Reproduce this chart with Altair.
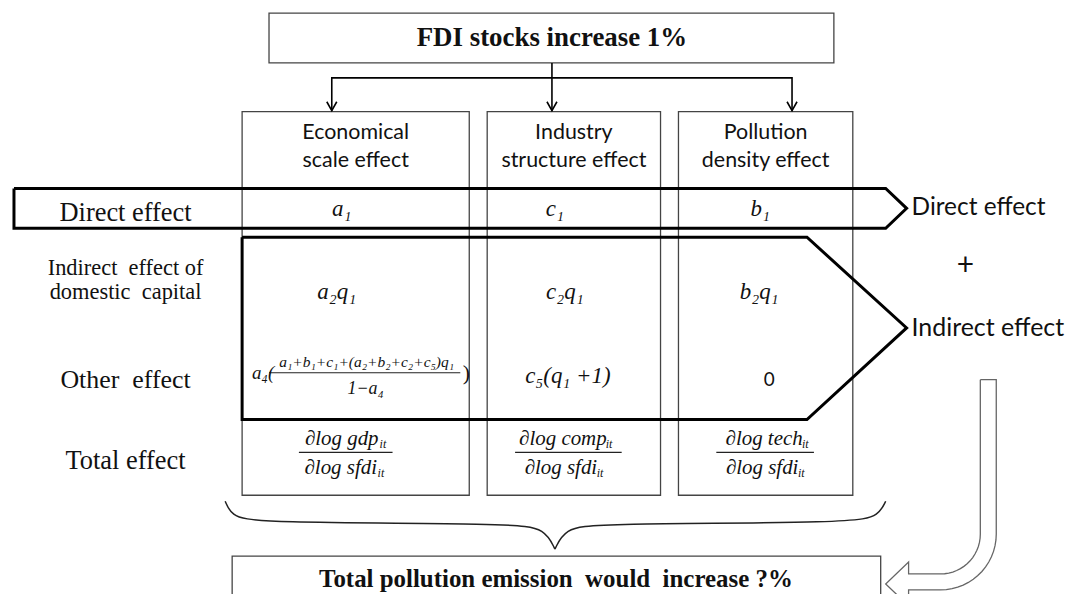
import altair as alt
import numpy as np
import pandas as pd

# ---------------- text content ----------------
top_title = "FDI stocks increase 1%"
bottom_title = "Total pollution emission\u00a0 would\u00a0 increase ?%"
header_line1 = ["Economical", "Industry", "Pollution"]
header_line2 = ["scale effect", "structure effect", "density effect"]
row_labels = ["Direct effect", "Indirect\u00a0 effect of", "domestic\u00a0 capital", "Other\u00a0 effect", "Total effect"]
direct_terms = ["a₁", "c₁", "b₁"]
indirect_terms = ["a₂q₁", "c₂q₁", "b₂q₁"]
other_col1 = ["a₄(", "a₁+b₁+c₁+(a₂+b₂+c₂+c₅)q₁", "1−a₄", ")"]
other_col2 = "c₅(q₁ +1)"
other_col3 = "0"
total_num = ["∂log gdp", "∂log comp", "∂log tech"]
total_den = ["∂log sfdi", "∂log sfdi", "∂log sfdi"]
total_sub = ["it", "it", "it"]
side_labels = ["Direct effect", "+", "Indirect effect"]

# ---------------- layout (diagram geometry, in page pixels) ----------------
top_box = [268, 835, 12, 62]
col_left = [241, 487, 679]
col_right = [469, 661, 854]
col_top, col_bottom = 111, 496
header_y = [132, 160]
arrow_x = [331, 552, 793]
branch_y, arrow_tip_y = 77, 110
direct_arrow_x = [12, 887, 908, 887, 12, 12]
direct_arrow_y = [188, 188, 208, 228, 228, 188]
indirect_arrow_x = [241, 808, 908, 808, 241, 241]
indirect_arrow_y = [237, 237, 328, 420, 420, 237]
row_label_x = 124
row_label_y = [213, 268, 292, 380, 462]
direct_x = [341, 555, 761]
direct_y = 209
indirect_x = [336, 565, 760]
indirect_y = 292
total_num_x = [341, 563, 765]
total_sub_num_x = [379, 606, 803]
total_den_x = [340, 561, 763]
total_sub_den_x = [377, 597, 799]
total_num_y, total_bar_y, total_den_y = 440, 453, 469
total_bar_x1 = [298, 515, 717]
total_bar_x2 = [392, 622, 815]
other_y = 376
brace_left_x = [224, 230, 252, 515, 545, 555]
brace_left_y = [502, 516, 524, 524, 530, 550]
brace_right_x = [555, 565, 595, 858, 880, 887]
brace_right_y = [550, 530, 524, 524, 516, 502]
bottom_box = [231, 882, 557, 640]
curve_cx, curve_cy, curve_r1, curve_r2 = 942, 535, 40, 56
curve_top = 380
head_base_x, head_tip_x, head_top_y, head_bot_y = 910, 887, 563, 607

X = alt.Scale(domain=[8, 1065], nice=False, zero=False)
Y = alt.Scale(domain=[8, 595], nice=False, zero=False, reverse=True)


def enc_xy(xf="x", yf="y"):
    return dict(x=alt.X(f"{xf}:Q", scale=X, axis=None),
                y=alt.Y(f"{yf}:Q", scale=Y, axis=None))


# ---------- boxes ----------
boxes = pd.DataFrame({
    "x": [top_box[0]] + col_left,
    "x2": [top_box[1]] + col_right,
    "y": [top_box[2]] + [col_top] * 3,
    "y2": [top_box[3]] + [col_bottom] * 3,
})
box_layer = alt.Chart(boxes).mark_rect(fillOpacity=0, stroke="#444444", strokeWidth=1.3).encode(
    **enc_xy(), x2="x2:Q", y2="y2:Q")


def add_seg(lst, name, xs, ys):
    for i, (a, b) in enumerate(zip(xs, ys)):
        lst.append({"shape": name, "i": i, "x": a, "y": b})


# ---------- thick pentagon arrows ----------
thick_rows = []
add_seg(thick_rows, "direct", direct_arrow_x, direct_arrow_y)
add_seg(thick_rows, "indirect", indirect_arrow_x, indirect_arrow_y)
thick = pd.DataFrame(thick_rows)
thick_layer = alt.Chart(thick).mark_line(color="black", strokeWidth=3, strokeJoin="miter").encode(
    **enc_xy(), order="i:Q", detail="shape:N")

# ---------- connector lines ----------
conn_rows = []
add_seg(conn_rows, "stem", [arrow_x[1], arrow_x[1]], [top_box[3], arrow_tip_y])
add_seg(conn_rows, "branch", [arrow_x[0], arrow_x[0], arrow_x[2], arrow_x[2]],
        [arrow_tip_y, branch_y, branch_y, arrow_tip_y])
for k, ax in enumerate(arrow_x):
    add_seg(conn_rows, f"head{k}", [ax - 5, ax, ax + 5], [arrow_tip_y - 9, arrow_tip_y, arrow_tip_y - 9])
conn = pd.DataFrame(conn_rows)
conn_layer = alt.Chart(conn).mark_line(color="black", strokeWidth=1.6).encode(
    **enc_xy(), order="i:Q", detail="shape:N")

# ---------- brace ----------
brace_rows = []
add_seg(brace_rows, "bl", brace_left_x, brace_left_y)
add_seg(brace_rows, "br", brace_right_x, brace_right_y)
brace = pd.DataFrame(brace_rows)
brace_layer = alt.Chart(brace).mark_line(color="#222222", strokeWidth=1.5, interpolate="basis").encode(
    **enc_xy(), order="i:Q", detail="shape:N")

# ---------- bottom box (cut by the page edge) ----------
bb_rows = []
add_seg(bb_rows, "bb", [bottom_box[0], bottom_box[0], bottom_box[1], bottom_box[1]],
        [bottom_box[3], bottom_box[2], bottom_box[2], bottom_box[3]])
bb = pd.DataFrame(bb_rows)
bb_layer = alt.Chart(bb).mark_line(color="#444444", strokeWidth=1.3, clip=True).encode(
    **enc_xy(), order="i:Q", detail="shape:N")

# ---------- hollow curved arrow ----------
th = np.linspace(0, np.pi / 2, 16)
inner_x = list(curve_cx + curve_r1 * np.cos(th))
inner_y = list(curve_cy + curve_r1 * np.sin(th))
outer_x = list(curve_cx + curve_r2 * np.cos(th))[::-1]
outer_y = list(curve_cy + curve_r2 * np.sin(th))[::-1]
ca_x = ([curve_cx + curve_r1] + inner_x + [head_base_x, head_base_x, head_tip_x, head_base_x, head_base_x]
        + outer_x + [curve_cx + curve_r2, curve_cx + curve_r1])
ca_y = ([curve_top] + inner_y + [curve_cy + curve_r1, head_top_y, (head_top_y + head_bot_y) / 2,
                                  head_bot_y, curve_cy + curve_r2]
        + outer_y + [curve_top, curve_top])
ca_rows = []
add_seg(ca_rows, "curve", ca_x, ca_y)
ca = pd.DataFrame(ca_rows)
ca_layer = alt.Chart(ca).mark_line(color="#666666", strokeWidth=1.3, clip=True).encode(
    **enc_xy(), order="i:Q", detail="shape:N")

# ---------- fraction bars ----------
bars = pd.DataFrame({
    "x": total_bar_x1 + [268],
    "x2": total_bar_x2 + [460],
    "y": [total_bar_y] * 3 + [373],
})
bar_layer = alt.Chart(bars).mark_rule(color="#222222", strokeWidth=1.2).encode(
    **enc_xy(), x2="x2:Q")


# ---------- texts ----------
def text_layer(df, font, style="normal", weight="normal", align="center", color="#111111"):
    return alt.Chart(df).mark_text(font=font, fontStyle=style, fontWeight=weight, align=align,
                                   baseline="middle", color=color).encode(
        **enc_xy(), text="t:N", size=alt.Size("fs:Q", scale=None, legend=None))


titles = pd.DataFrame({
    "t": [top_title, bottom_title],
    "x": [552, 556], "y": [37, 580], "fs": [27, 25],
})
t_titles = text_layer(titles, "Liberation Serif", weight="bold")

headers = pd.DataFrame({
    "t": header_line1 + header_line2,
    "x": [(a + b) / 2 for a, b in zip(col_left, col_right)] * 2,
    "y": [header_y[0]] * 3 + [header_y[1]] * 3,
    "fs": [21.5] * 6,
})
t_headers = text_layer(headers, "Lato")

side = pd.DataFrame({
    "t": [side_labels[0], side_labels[2]],
    "x": [913, 913], "y": [208, 328], "fs": [24.5, 25],
})
t_side = text_layer(side, "Lato", align="left")
plus = pd.DataFrame({"t": [side_labels[1]], "x": [967], "y": [266], "fs": [30]})
t_plus = text_layer(plus, "Lato")
zero = pd.DataFrame({"t": [other_col3], "x": [770], "y": [380], "fs": [19]})
t_zero = text_layer(zero, "Lato")

rl = pd.DataFrame({
    "t": row_labels,
    "x": [row_label_x] * 5,
    "y": row_label_y,
    "fs": [26.5, 22.5, 22.5, 26, 26.5],
})
t_rows = text_layer(rl, "Liberation Serif")

formulas = pd.DataFrame({
    "t": direct_terms + indirect_terms + [other_col2, other_col1[0], other_col1[1], other_col1[2]]
         + total_num + total_den,
    "x": direct_x + indirect_x + [568, 262, 366, 365] + total_num_x + total_den_x,
    "y": [direct_y] * 3 + [indirect_y] * 3 + [other_y, 373, 362, 389]
         + [total_num_y] * 3 + [total_den_y] * 3,
    "fs": [23] * 3 + [23] * 3 + [23, 19, 15.5, 18] + [21] * 3 + [21] * 3,
})
t_formulas = text_layer(formulas, "Liberation Serif", style="italic")

paren = pd.DataFrame({"t": [other_col1[3]], "x": [466], "y": [373], "fs": [22]})
t_paren = text_layer(paren, "Liberation Serif")

subs = pd.DataFrame({
    "t": total_sub + total_sub,
    "x": total_sub_num_x + total_sub_den_x,
    "y": [total_num_y + 5] * 3 + [total_den_y + 5] * 3,
    "fs": [12] * 6,
})
t_subs = text_layer(subs, "Liberation Serif", style="italic", align="left")

chart = alt.layer(
    box_layer, bb_layer, conn_layer, brace_layer, ca_layer, bar_layer, thick_layer,
    t_titles, t_headers, t_side, t_plus, t_zero, t_rows, t_formulas, t_paren, t_subs,
).properties(width=1057, height=587, padding=0, background="white").configure_view(stroke=None)

chart.save("out.html", embed_options={"renderer": "svg", "actions": False})
